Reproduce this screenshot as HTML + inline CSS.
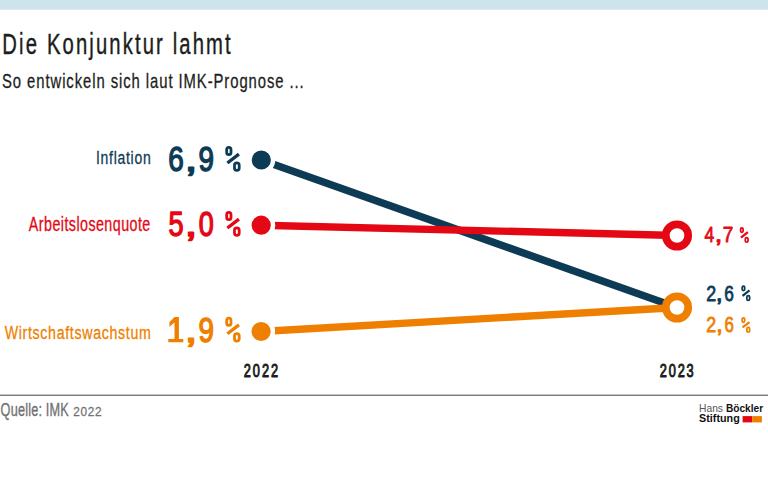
<!DOCTYPE html>
<html><head><meta charset="utf-8">
<style>
html,body{margin:0;padding:0;background:#fff;width:768px;height:497px;overflow:hidden}
svg{display:block}
text{font-family:"Liberation Sans",sans-serif;font-kerning:none;font-variant-ligatures:none}
</style></head><body>
<svg width="768" height="497" viewBox="0 0 768 497">
<rect x="0" y="0" width="768" height="9.7" fill="#cde4ee"/>
<text transform="translate(2.37 54.00) scale(0.6800 1)" font-family="Liberation Sans" font-weight="normal" font-size="29.80" letter-spacing="3.124" fill="#1d1d1b" stroke="#1d1d1b" stroke-width="0.40" stroke-linejoin="round">Die Konjunktur lahmt</text>
<text transform="translate(2.03 88.00) scale(0.7200 1)" font-family="Liberation Sans" font-weight="normal" font-size="20.64" letter-spacing="1.280" fill="#1d1d1b" stroke="#1d1d1b" stroke-width="0.30" stroke-linejoin="round">So entwickeln sich laut IMK-Prognose ...</text>
<text transform="translate(96.02 163.60) scale(0.7400 1)" font-family="Liberation Sans" font-weight="normal" font-size="18.90" letter-spacing="0.963" fill="#0d3b56" stroke="#0d3b56" stroke-width="0.30" stroke-linejoin="round">Inflation</text>
<text transform="translate(28.83 230.80) scale(0.7400 1)" font-family="Liberation Sans" font-weight="normal" font-size="19.33" letter-spacing="0.589" fill="#e40814" stroke="#e40814" stroke-width="0.30" stroke-linejoin="round">Arbeitslosenquote</text>
<text transform="translate(4.65 339.00) scale(0.7400 1)" font-family="Liberation Sans" font-weight="normal" font-size="19.19" letter-spacing="0.905" fill="#ee7f00" stroke="#ee7f00" stroke-width="0.30" stroke-linejoin="round">Wirtschaftswachstum</text>
<text transform="translate(168.25 170.70) scale(0.8063 1)" font-family="Liberation Sans" font-weight="normal" font-size="34.59" fill="#0d3b56" stroke="#0d3b56" stroke-width="1.40" stroke-linejoin="round">6</text><text transform="translate(184.54 170.70) scale(1.3555 1)" font-family="Liberation Sans" font-weight="normal" font-size="34.59" fill="#0d3b56" stroke="#0d3b56" stroke-width="1.40" stroke-linejoin="round">,</text><text transform="translate(198.46 170.70) scale(0.8056 1)" font-family="Liberation Sans" font-weight="normal" font-size="34.59" fill="#0d3b56" stroke="#0d3b56" stroke-width="1.40" stroke-linejoin="round">9</text><g fill="none" stroke="#0d3b56"><rect x="226.68" y="147.38" width="4.33" height="7.19" rx="2.16" stroke-width="2.75"/><line x1="227.38" y1="162.97" x2="238.93" y2="154.13" stroke-width="3.30"/><rect x="234.48" y="162.83" width="4.74" height="7.59" rx="2.37" stroke-width="2.75"/></g>
<text transform="translate(168.56 235.70) scale(0.7864 1)" font-family="Liberation Sans" font-weight="normal" font-size="34.59" fill="#e40814" stroke="#e40814" stroke-width="1.40" stroke-linejoin="round">5</text><text transform="translate(184.54 235.70) scale(1.3555 1)" font-family="Liberation Sans" font-weight="normal" font-size="34.59" fill="#e40814" stroke="#e40814" stroke-width="1.40" stroke-linejoin="round">,</text><text transform="translate(198.69 235.70) scale(0.7805 1)" font-family="Liberation Sans" font-weight="normal" font-size="34.59" fill="#e40814" stroke="#e40814" stroke-width="1.40" stroke-linejoin="round">0</text><g fill="none" stroke="#e40814"><rect x="226.68" y="212.38" width="4.33" height="7.19" rx="2.16" stroke-width="2.75"/><line x1="227.38" y1="227.97" x2="238.93" y2="219.13" stroke-width="3.30"/><rect x="234.48" y="227.83" width="4.74" height="7.59" rx="2.37" stroke-width="2.75"/></g>
<path fill="#ee7f00" d="M174.5 317.00 H178.9 V339.00 H183.3 V342.20 H168.3 V339.00 H174.5 V322.60 L169.4 326.80 V322.30 Z"/><text transform="translate(184.54 341.50) scale(1.3555 1)" font-family="Liberation Sans" font-weight="normal" font-size="34.59" fill="#ee7f00" stroke="#ee7f00" stroke-width="1.40" stroke-linejoin="round">,</text><text transform="translate(198.46 341.50) scale(0.8056 1)" font-family="Liberation Sans" font-weight="normal" font-size="34.59" fill="#ee7f00" stroke="#ee7f00" stroke-width="1.40" stroke-linejoin="round">9</text><g fill="none" stroke="#ee7f00"><rect x="226.68" y="318.18" width="4.33" height="7.19" rx="2.16" stroke-width="2.75"/><line x1="227.38" y1="333.77" x2="238.93" y2="324.93" stroke-width="3.30"/><rect x="234.48" y="333.63" width="4.74" height="7.59" rx="2.37" stroke-width="2.75"/></g>
<text transform="translate(704.62 242.30) scale(0.8161 1)" font-family="Liberation Sans" font-weight="normal" font-size="21.51" fill="#e40814" stroke="#e40814" stroke-width="0.80" stroke-linejoin="round">4</text><text transform="translate(714.55 242.30) scale(1.3396 1)" font-family="Liberation Sans" font-weight="normal" font-size="21.51" fill="#e40814" stroke="#e40814" stroke-width="0.80" stroke-linejoin="round">,</text><text transform="translate(722.68 242.30) scale(0.8791 1)" font-family="Liberation Sans" font-weight="normal" font-size="21.51" fill="#e40814" stroke="#e40814" stroke-width="0.80" stroke-linejoin="round">7</text><g fill="none" stroke="#e40814"><rect x="740.58" y="227.97" width="2.51" height="4.37" rx="1.25" stroke-width="1.75"/><line x1="740.95" y1="237.56" x2="747.90" y2="232.11" stroke-width="2.20"/><rect x="745.27" y="237.50" width="2.76" height="4.62" rx="1.38" stroke-width="1.75"/></g>
<text transform="translate(706.33 300.50) scale(0.8302 1)" font-family="Liberation Sans" font-weight="normal" font-size="21.51" fill="#0d3b56" stroke="#0d3b56" stroke-width="0.80" stroke-linejoin="round">2</text><text transform="translate(715.60 300.50) scale(1.2366 1)" font-family="Liberation Sans" font-weight="normal" font-size="21.51" fill="#0d3b56" stroke="#0d3b56" stroke-width="0.80" stroke-linejoin="round">,</text><text transform="translate(724.34 300.50) scale(0.8018 1)" font-family="Liberation Sans" font-weight="normal" font-size="21.51" fill="#0d3b56" stroke="#0d3b56" stroke-width="0.80" stroke-linejoin="round">6</text><g fill="none" stroke="#0d3b56"><rect x="742.17" y="286.17" width="2.51" height="4.37" rx="1.25" stroke-width="1.75"/><line x1="742.55" y1="295.76" x2="749.50" y2="290.31" stroke-width="2.20"/><rect x="746.87" y="295.70" width="2.76" height="4.62" rx="1.38" stroke-width="1.75"/></g>
<text transform="translate(706.33 332.20) scale(0.8302 1)" font-family="Liberation Sans" font-weight="normal" font-size="21.51" fill="#ee7f00" stroke="#ee7f00" stroke-width="0.80" stroke-linejoin="round">2</text><text transform="translate(715.91 332.20) scale(1.1679 1)" font-family="Liberation Sans" font-weight="normal" font-size="21.51" fill="#ee7f00" stroke="#ee7f00" stroke-width="0.80" stroke-linejoin="round">,</text><text transform="translate(724.56 332.20) scale(0.7831 1)" font-family="Liberation Sans" font-weight="normal" font-size="21.51" fill="#ee7f00" stroke="#ee7f00" stroke-width="0.80" stroke-linejoin="round">6</text><g fill="none" stroke="#ee7f00"><rect x="742.17" y="317.88" width="2.51" height="4.37" rx="1.25" stroke-width="1.75"/><line x1="742.55" y1="327.46" x2="749.50" y2="322.01" stroke-width="2.20"/><rect x="746.87" y="327.40" width="2.76" height="4.62" rx="1.38" stroke-width="1.75"/></g>
<text transform="translate(243.72 376.60) scale(0.7200 1)" font-family="Liberation Sans" font-weight="normal" font-size="17.73" letter-spacing="2.760" fill="#1d1d1b" stroke="#1d1d1b" stroke-width="1.00" stroke-linejoin="round">2022</text>
<text transform="translate(659.72 376.60) scale(0.7200 1)" font-family="Liberation Sans" font-weight="normal" font-size="17.73" letter-spacing="2.583" fill="#1d1d1b" stroke="#1d1d1b" stroke-width="1.00" stroke-linejoin="round">2023</text>
<line x1="261.3" y1="160" x2="677" y2="307.5" stroke="#0d3b56" stroke-width="7.5"/>
<line x1="261.2" y1="225.2" x2="677" y2="235.5" stroke="#e40814" stroke-width="7.4"/>
<line x1="261.1" y1="331.5" x2="677" y2="307.5" stroke="#ee7f00" stroke-width="7.4"/>
<circle cx="261.3" cy="160" r="14" fill="#fff"/><circle cx="261.3" cy="160" r="9.6" fill="#0d3b56"/>
<circle cx="261.2" cy="225.2" r="14" fill="#fff"/><circle cx="261.2" cy="225.2" r="9.6" fill="#e40814"/>
<circle cx="261.1" cy="331.5" r="14" fill="#fff"/><circle cx="261.1" cy="331.5" r="9.6" fill="#ee7f00"/>
<circle cx="677" cy="235.5" r="11.2" fill="#fff" stroke="#e40814" stroke-width="7.7"/>
<circle cx="677" cy="307.5" r="11.2" fill="#fff" stroke="#ee7f00" stroke-width="7.7"/>
<rect x="0" y="394.6" width="768" height="1.3" fill="#6e6e6e"/>
<text transform="translate(0.62 416.00) scale(0.7200 1)" font-family="Liberation Sans" font-weight="normal" font-size="17.66" letter-spacing="0.245" fill="#727272" stroke="#727272" stroke-width="0.35" stroke-linejoin="round">Quelle: IMK</text>
<text transform="translate(73.32 416.00) scale(0.9500 1)" font-family="Liberation Sans" font-weight="normal" font-size="12.43" letter-spacing="0.662" fill="#727272" stroke="#727272" stroke-width="0.25" stroke-linejoin="round">2022</text>
<text x="699.1" y="411.8" font-size="11.2" fill="#555" textLength="23.9" lengthAdjust="spacingAndGlyphs">Hans</text>
<text x="726" y="411.8" font-size="11.2" font-weight="bold" fill="#111" textLength="37.1" lengthAdjust="spacingAndGlyphs">Böckler</text>
<text x="699.1" y="422.4" font-size="11.2" font-weight="bold" fill="#111" textLength="40.6" lengthAdjust="spacingAndGlyphs">Stiftung</text>
<rect x="742.6" y="416.1" width="9.6" height="6.3" fill="#e40814"/>
<rect x="752.2" y="416.1" width="9.7" height="6.3" fill="#ee7f00"/>
</svg>
</body></html>
